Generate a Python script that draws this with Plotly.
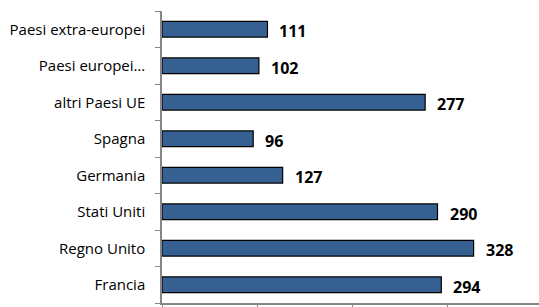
import plotly.graph_objects as go

categories = ["Francia", "Regno Unito", "Stati Uniti", "Germania", "Spagna",
              "altri Paesi UE", "Paesi europei…", "Paesi extra-europei"]
values = [294, 328, 290, 127, 96, 277, 102, 111]

fig = go.Figure()
fig.add_trace(go.Bar(
    x=values, y=categories, orientation="h",
    width=0.43,
    marker=dict(color="#376092", line=dict(color="#000000", width=1.2)),
    hoverinfo="skip",
))

for c, v in zip(categories, values):
    fig.add_annotation(x=v, y=c, text=f"<b>{v}</b>", showarrow=False,
                       xanchor="left", xshift=10, yshift=-2,
                       font=dict(family="Open Sans", size=16, color="#000000"))

fig.update_layout(
    width=539, height=307,
    margin=dict(l=162, r=0, t=11, b=4),
    paper_bgcolor="white", plot_bgcolor="white",
    showlegend=False,
    font=dict(family="Open Sans", size=15, color="#000000"),
)
fig.update_xaxes(range=[0, 396.84], showgrid=False, zeroline=False,
                 showline=True, linecolor="#868686", linewidth=1.5,
                 ticks="outside", ticklen=4, tickcolor="#868686",
                 tickvals=[0, 100, 200, 300], showticklabels=False)
fig.update_yaxes(categoryorder="array", categoryarray=categories,
                 showgrid=False, zeroline=False,
                 showline=True, linecolor="#868686", linewidth=1.5,
                 ticks="outside", ticklen=5, tickcolor="#868686",
                 tickson="boundaries", ticklabelstandoff=12)

fig.write_html("out.html", config={"displayModeBar": False},
               post_script="document.body.style.margin='0';")
